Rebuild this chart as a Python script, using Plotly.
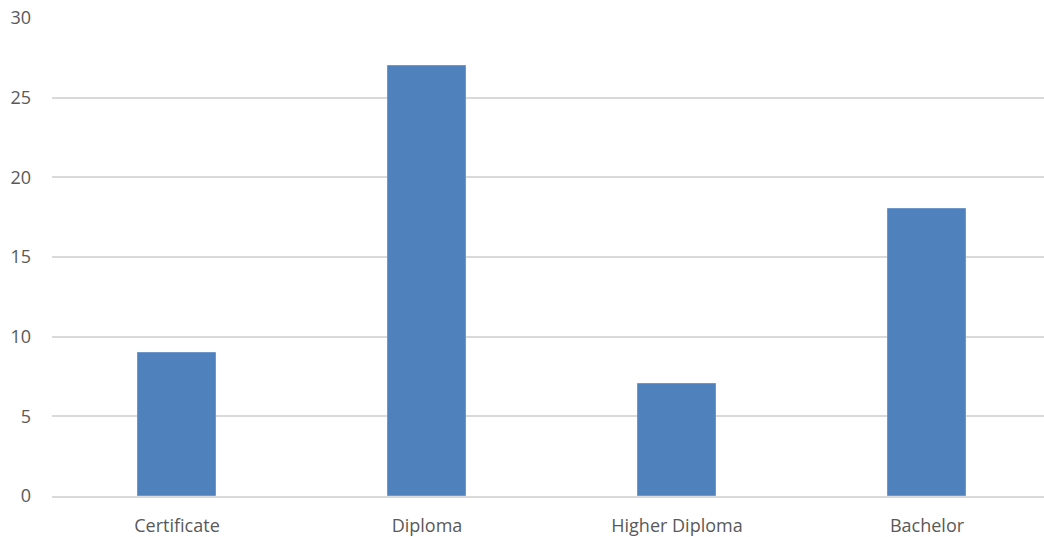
import plotly.graph_objects as go

# Qualification counts
categories = ["Certificate", "Diploma", "Higher Diploma", "Bachelor"]
counts = [9, 27, 7, 18]

fig = go.Figure(
    go.Bar(
        x=categories,
        y=counts,
        width=0.312,
        marker=dict(color="#4F81BD", line=dict(color="#6E97CB", width=1)),
    )
)

label_font = dict(family="Open Sans, Liberation Sans, sans-serif", size=18, color="#595959")

fig.update_layout(
    width=1044,
    height=537,
    margin=dict(l=52, r=0, t=18, b=38),
    plot_bgcolor="white",
    paper_bgcolor="white",
    showlegend=False,
    bargap=0,
)

fig.update_xaxes(
    range=[-0.5, 3.468],
    showgrid=False,
    showline=True,
    linecolor="#D9D9D9",
    linewidth=1.5,
    tickfont=label_font,
    ticks="",
    ticklabelstandoff=13,
)

fig.update_yaxes(
    range=[0, 30],
    tick0=0,
    dtick=5,
    showgrid=True,
    gridcolor="#D9D9D9",
    gridwidth=1.5,
    zeroline=False,
    showline=False,
    tickfont=label_font,
    ticks="",
    ticklabelstandoff=20,
)

fig.write_html("out.html")
